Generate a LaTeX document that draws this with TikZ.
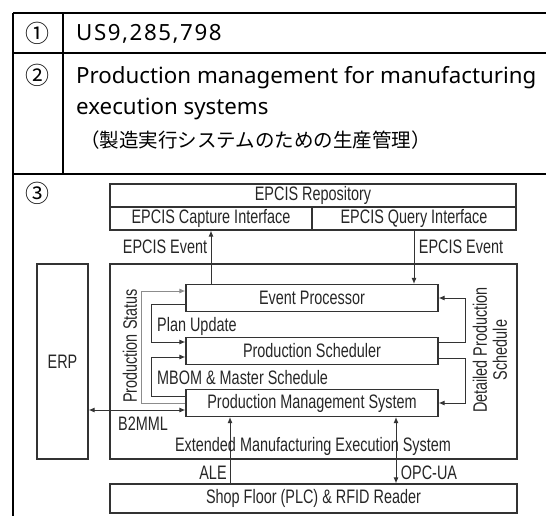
\documentclass[tikz,border=0pt]{standalone}
\usepackage{fontspec}
\setmainfont{Noto Sans}
\newfontfamily\jpfont{Noto Sans CJK JP}
\newfontfamily\dgfont[FakeStretch=0.74]{Liberation Sans}
\newfontfamily\numfont[LetterSpace=7]{Noto Sans}
\usetikzlibrary{arrows.meta}

\begin{document}
\begin{tikzpicture}[x=1pt,y=-1pt,
    regla/.style={line width=1.6pt},
    num/.style={inner sep=0pt,font=\jpfont\fontsize{24}{24}\selectfont},
    cab/.style={inner sep=0pt,anchor=base west,font=\fontsize{22.3}{24}\selectfont},
    caja/.style={draw=black!80,line width=1.1pt,inner sep=0pt,text=black!85,
                 font=\dgfont\fontsize{19.5}{20}\selectfont},
    etiq/.style={inner sep=0pt,text=black!85,font=\dgfont\fontsize{19.5}{20}\selectfont},
    flecha/.style={draw=black!80,line width=1pt,-{Latex[length=6pt,width=5pt]}},
    gris/.style={draw=black!45,line width=1pt,-{Latex[length=6pt,width=5pt]}}]
    \useasboundingbox (0,0) rectangle (546,516);

    % Tabla
    \draw[regla] (13,13) -- (546,13);
    \draw[regla] (13,53) -- (546,53);
    \draw[regla] (13,174) -- (546,174);
    \draw[regla] (13,13) -- (13,516);
    \draw[regla] (63,13) -- (63,174);

    % Numeros y textos de la tabla
    \node[num] (n1) at (37,33) {①};
    \node[num] (n2) at (37,75) {②};
    \node[num] (n3) at (37,193) {③};
    \node[cab,font=\numfont\fontsize{22.3}{24}\selectfont] (patente) at (76,40.5) {US9,285,798};
    \node[cab] (titulo1) at (76,83.5) {Production management for manufacturing};
    \node[cab] (titulo2) at (76,115) {execution systems};
    \node[cab,font=\jpfont\fontsize{19.5}{22}\selectfont] (titulo3) at (80,147.5)
        {（製造実行システムのための生産管理）};

    % Repositorio EPCIS
    \node[caja,minimum width=406pt,minimum height=23pt] (repo) at (313,195.5) {EPCIS Repository};
    \node[caja,minimum width=202pt,minimum height=23pt] (cap) at (211,218.5) {EPCIS Capture Interface};
    \node[caja,minimum width=204pt,minimum height=23pt] (qry) at (414,218.5) {EPCIS Query Interface};

    % Cajas grandes
    \node[caja,minimum width=51pt,minimum height=195pt] (erp) at (62.5,361.5) {ERP};
    \node[caja,minimum width=407pt,minimum height=195pt] (mes) at (313.5,361.5) {};
    \node[caja,minimum width=407pt,minimum height=29pt] (sfr) at (313.5,498.5) {Shop Floor (PLC) \& RFID Reader};

    % Cajas interiores
    \node[caja,minimum width=252pt,minimum height=27pt] (ep) at (312,298) {Event Processor};
    \node[caja,minimum width=252pt,minimum height=27pt] (ps) at (312,351) {Production Scheduler};
    \node[caja,minimum width=252pt,minimum height=27pt] (pms) at (312,403) {Production Management System};

    % Flechas EPCIS
    \draw[flecha] (ep.north -| cap.south) -- (cap.south);
    \draw[flecha] (qry.south) -- (qry.south |- ep.north);

    % Lazos de la izquierda
    \draw[gris] (pms.west) -- ++(-44,0) |- ([yshift=7pt]ep.west);               % Production Status
    \draw[flecha] ([yshift=-6pt]ep.west) -- ++(-34,0) |- ([yshift=9pt]ps.west);   % Plan Update
    \draw[flecha] ([yshift=7pt]pms.west) -- ++(-34,0) |- ([yshift=-6pt]ps.west);  % MBOM
    \draw[flecha,{Latex[length=6pt,width=5pt]}-{Latex[length=6pt,width=5pt]}]
        ([yshift=-7pt]pms.west -| erp.east) -- ([yshift=-7pt]pms.west);         % B2MML

    % Lazos de la derecha
    \draw[flecha] ([yshift=9pt]ps.east) -- ++(27,0) |- (ep.east);
    \draw[flecha] ([yshift=-7pt]ps.east) -- ++(27,0) |- (pms.east);

    % Planta
    \draw[flecha] ([xshift=-82pt]pms.south |- sfr.north) -- ([xshift=-82pt]pms.south);  % ALE
    \draw[flecha,{Latex[length=6pt,width=5pt]}-{Latex[length=6pt,width=5pt]}]
        ([xshift=84pt]pms.south) -- ([xshift=84pt]pms.south |- sfr.north);           % OPC-UA

    % Etiquetas
    \node[etiq] (ev1) at (165,247) {EPCIS Event};
    \node[etiq] (ev2) at (461,247) {EPCIS Event};
    \node[etiq,rotate=90] (status) at (130,346) {Production Status};
    \node[etiq,anchor=west] (plan) at (157,326) {Plan Update};
    \node[etiq,anchor=west] (mbom) at (157,378) {MBOM \& Master Schedule};
    \node[etiq] (b2mml) at (143,424) {B2MML};
    \node[etiq,rotate=90,align=center,font=\dgfont\fontsize{19.5}{20}\selectfont] (detalle) at (490,350)
        {Detailed Production\\Schedule};
    \node[etiq] (mestxt) at (313,446) {Extended Manufacturing Execution System};
    \node[etiq] (ale) at (213,473) {ALE};
    \node[etiq] (opc) at (429,473) {OPC-UA};
\end{tikzpicture}
\end{document}
